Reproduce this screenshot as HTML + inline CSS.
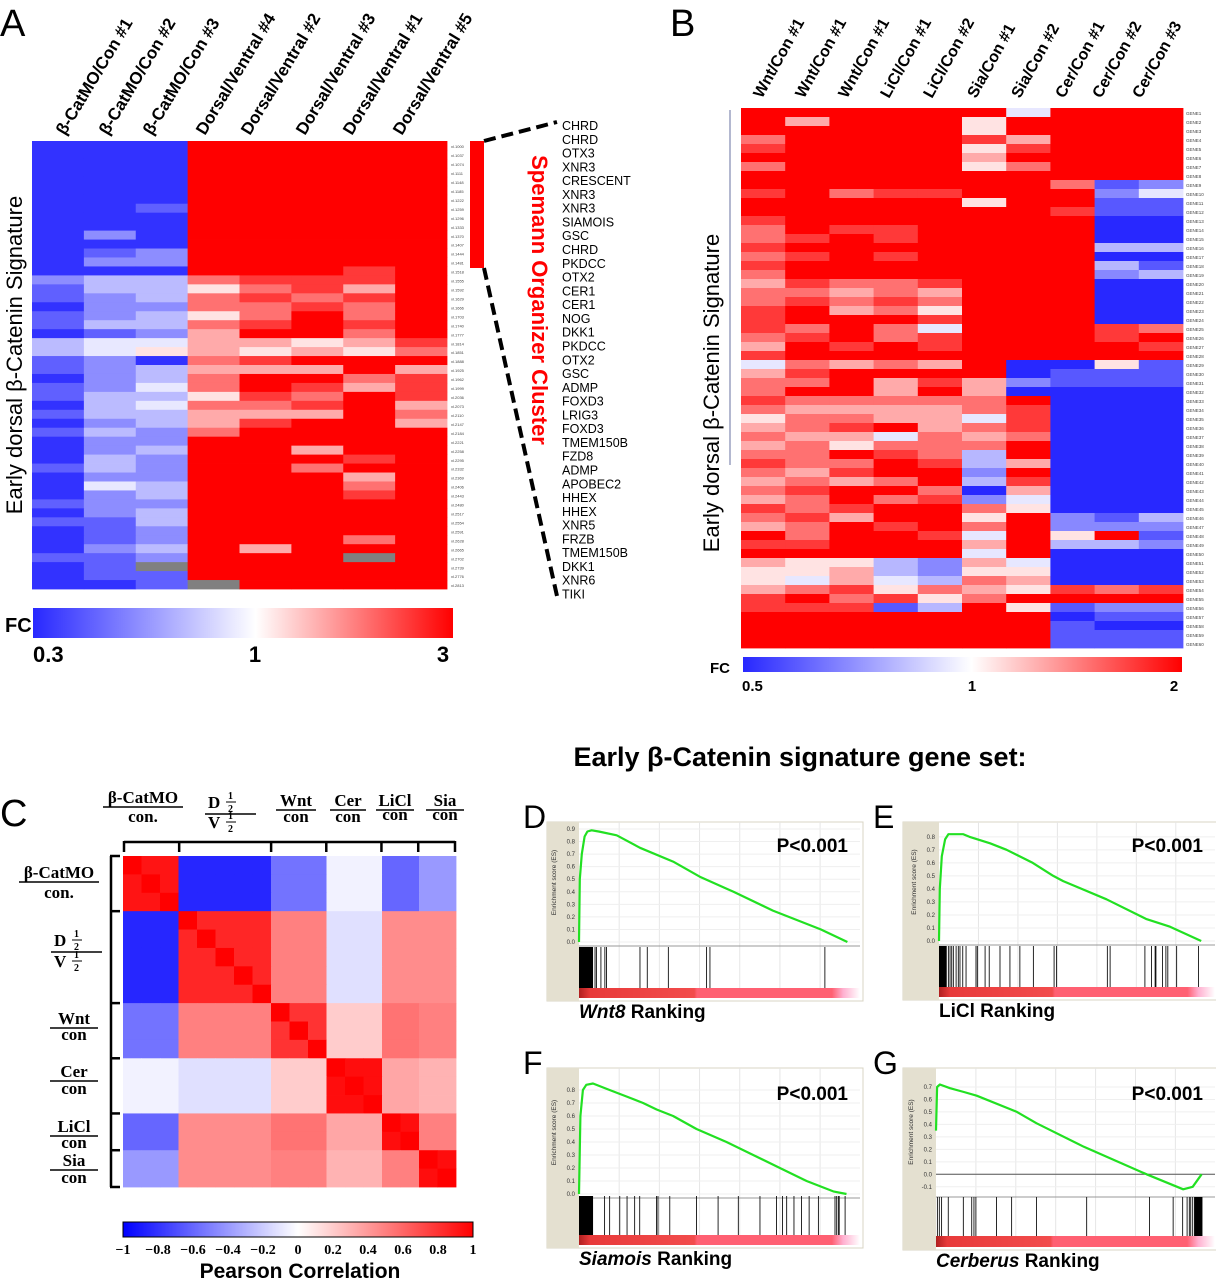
<!DOCTYPE html>
<html><head><meta charset="utf-8"><title>Early β-Catenin signature figure</title>
<style>
html,body{margin:0;padding:0;background:#fff;}
svg{display:block;font-family:"Liberation Sans",sans-serif;}
.serif{font-family:"Liberation Serif",serif;font-weight:bold;}
</style></head>
<body>
<svg id="fig" xmlns="http://www.w3.org/2000/svg" width="1216" height="1280" viewBox="0 0 1216 1280">
<defs>
<linearGradient id="gA" x1="0" x2="1"><stop offset="0" stop-color="#2828ff"/><stop offset="0.53" stop-color="#fff"/><stop offset="1" stop-color="#ff0000"/></linearGradient>
<linearGradient id="gB" x1="0" x2="1"><stop offset="0" stop-color="#2828ff"/><stop offset="0.52" stop-color="#fff"/><stop offset="1" stop-color="#ff0000"/></linearGradient>
<linearGradient id="gC" x1="0" x2="1"><stop offset="0" stop-color="#0000ff"/><stop offset="0.5" stop-color="#fff"/><stop offset="1" stop-color="#ff0000"/></linearGradient>
<linearGradient id="gRank" x1="0" x2="1"><stop offset="0" stop-color="#b02020"/><stop offset="0.04" stop-color="#e83a3a"/><stop offset="0.41" stop-color="#f24c4c"/><stop offset="0.42" stop-color="#ff6072"/><stop offset="0.9" stop-color="#ff6072"/><stop offset="0.94" stop-color="#ffb0d0"/><stop offset="1" stop-color="#fff"/></linearGradient>
</defs>

<!-- Panel letters -->
<text x="0" y="36" font-size="38">A</text>
<text x="670" y="36" font-size="38">B</text>
<text x="0" y="826" font-size="38">C</text>
<text x="523" y="828" font-size="32">D</text>
<text x="873" y="828" font-size="32">E</text>
<text x="523" y="1074" font-size="32">F</text>
<text x="873" y="1074" font-size="32">G</text>

<!-- Panel A static text -->
<text transform="translate(22,355) rotate(-90)" text-anchor="middle" font-size="22">Early dorsal β-Catenin Signature</text>
<rect x="470" y="141" width="14" height="127" fill="#ff0000"/>
<line x1="484" y1="141" x2="557" y2="122" stroke="#000" stroke-width="4" stroke-dasharray="12,6"/>
<line x1="484" y1="268" x2="557" y2="596" stroke="#000" stroke-width="4" stroke-dasharray="12,6"/>
<text transform="translate(532,300) rotate(90)" text-anchor="middle" font-size="22" font-weight="bold" fill="#ff0000">Spemann Organizer Cluster</text>
<g id="geneList" font-size="12.5"></g>
<rect x="33" y="608" width="420" height="30" fill="url(#gA)"/>
<text x="5" y="632" font-size="20" font-weight="bold">FC</text>
<text x="33" y="662" font-size="22" font-weight="bold">0.3</text>
<text x="255" y="662" font-size="22" font-weight="bold" text-anchor="middle">1</text>
<text x="443" y="662" font-size="22" font-weight="bold" text-anchor="middle">3</text>

<!-- Panel B static -->
<line x1="730" y1="110" x2="730" y2="465" stroke="#9aa0c0" stroke-width="1.5"/>
<text transform="translate(719,393) rotate(-90)" text-anchor="middle" font-size="22">Early dorsal β-Catenin Signature</text>
<rect x="743" y="657" width="439" height="15" fill="url(#gB)"/>
<text x="710" y="673" font-size="15" font-weight="bold">FC</text>
<text x="742" y="691" font-size="15" font-weight="bold">0.5</text>
<text x="972" y="691" font-size="15" font-weight="bold" text-anchor="middle">1</text>
<text x="1174" y="691" font-size="15" font-weight="bold" text-anchor="middle">2</text>

<!-- Title -->
<text x="800" y="766" text-anchor="middle" font-size="27" font-weight="bold">Early β-Catenin signature gene set:</text>

<!-- Panel C static -->
<g id="cHeaders" class="serif" font-size="17"></g>
<g stroke="#000" stroke-width="2.5" fill="none" id="cBrackets"></g>
<rect x="123" y="1222" width="350" height="15" fill="url(#gC)" stroke="#000" stroke-width="1"/>
<g id="cTicks" class="serif" font-size="14" text-anchor="middle"></g>
<text x="300" y="1278" text-anchor="middle" font-size="21" font-weight="bold">Pearson Correlation</text>

<g id="hmA"></g>
<g id="hmB"></g>
<g id="hmC"></g>
<g id="gsea"></g>
</svg>

<script>
// ---------- Panel A data ----------
const colsA = ["β-CatMO/Con #1","β-CatMO/Con #2","β-CatMO/Con #3","Dorsal/Ventral #4","Dorsal/Ventral #2","Dorsal/Ventral #3","Dorsal/Ventral #1","Dorsal/Ventral #5"];
const rowsA = [
"00099999","00099999","00099999","00099999","00099999","00099999","00099999","00199999","00099999","00099999",
"02099999","00099999","01299999","02299999","00099989","23378889","13357869","12378789","02277879","12357979",
"13378989","01269979","34466568","34565657","12078999","12366696","02379978","12479868","13358798","03477896",
"13366697","02368996","13279999","02299999","02399699","03299989","13299799","02299969","04399979","02399989",
"12299999","02399999","11399999","01299999","01299979","02396999","112999g9","01g99999","01199999","001g9999"];
const genesA = ["CHRD","CHRD","OTX3","XNR3","CRESCENT","XNR3","XNR3","SIAMOIS","GSC","CHRD","PKDCC","OTX2","CER1","CER1","NOG","DKK1","PKDCC","OTX2","GSC","ADMP","FOXD3","LRIG3","FOXD3","TMEM150B","FZD8","ADMP","APOBEC2","HHEX","HHEX","XNR5","FRZB","TMEM150B","DKK1","XNR6","TIKI"];

// ---------- Panel B data ----------
const colsB = ["Wnt/Con #1","Wnt/Con #1","Wnt/Con #1","LiCl/Con #1","LiCl/Con #2","Sia/Con #1","Sia/Con #2","Cer/Con #1","Cer/Con #2","Cer/Con #3"];
const rowsB = [
"9999994999","9699959999","9999959999","7999986999","8999958999","9999969999","7999957999","9999999999","9999999712","8978899924",
"9999959911","9999999811","8999999900","7988999900","7898999900","8999999933","7898999900","8999999931","7999999923","6877899900",
"7767699900","7878799900","8967599900","8999899900","8797499987","7897899989","6989899998","8999999999","4767690051","6899990111",
"7796862111","7996960000","8777779000","7666678000","5776648000","6789678000","7664767000","6757779000","7798739000","8779836000",
"7689929000","6767938000","7899706000","6797824000","8789975000","7869959213","6798979222","9799849591","8899969332","9999949000",
"6553264000","5563255000","5464376000","6785765878","8978579999","8881395122","9999999011","9999999100","9999999111","9999999111"];

// ---------- Panel C data ----------
const groupsC = ["β-CatMO","D/V","Wnt","Cer","LiCl","Sia"];
const groupSizesC = [3,5,3,3,2,2];
const blockCorr = [
 [0.92,-0.85,-0.55,-0.05,-0.6,-0.4],
 [-0.85,0.85,0.5,-0.12,0.45,0.45],
 [-0.55,0.5,0.8,0.2,0.55,0.5],
 [-0.05,-0.12,0.2,0.95,0.35,0.3],
 [-0.6,0.45,0.55,0.35,0.95,0.5],
 [-0.4,0.45,0.5,0.3,0.5,0.95]];
const ticksC = ["−1","−0.8","−0.6","−0.4","−0.2","0","0.2","0.4","0.6","0.8","1"];

// ---------- GSEA data ----------
const rankD = [0,0.3,1,2,3,4.5,7,13.4,21.7,33.5,43,55,69,86,95.5];
const esD   = [0,0.5,0.7,0.84,0.88,0.89,0.88,0.85,0.75,0.64,0.52,0.4,0.25,0.1,0];
const hitsD = [5.7,6.2,7.8,9.2,9.8,21.7,24.3,31.8,45.4,46.6,87.5];
const denseD = [0,5];
const rankE = [0,0.3,1,2.2,3.4,8.8,11,18.5,24.5,34,41.4,45,60.7,75,83.7,95];
const esE   = [0,0.4,0.65,0.78,0.82,0.82,0.8,0.75,0.7,0.6,0.5,0.46,0.32,0.17,0.11,0];
const hitsE = [3.4,4,4.6,5.2,6.2,7,7.6,8.6,9.8,13.4,13.9,16.7,18.2,22.1,25.7,29.3,34.2,41.7,42.6,61,62,74.6,77,78.3,78.6,81,82.2,82.9,86.1,94];
const denseE = [0,2.8];
const rankF = [0,0.5,1.4,2.6,5,10.9,16.9,22.8,27.6,33.5,41.8,52.5,62,71.5,81,90.5,95.2];
const esF   = [0,0.6,0.8,0.84,0.85,0.8,0.75,0.7,0.65,0.6,0.5,0.4,0.3,0.2,0.1,0.02,0];
const hitsF = [9.1,10.9,14.5,17.1,19.8,21.6,27.6,28.1,32.3,41.8,49.5,56.7,64.4,70.3,72.4,73.9,76.5,79.2,81.9,85.2,91.1,91.7,92.3,92.6,94.7];
const denseF = [0,5];
const rankG = [0,0.4,1.4,5,10,14.6,29,36,53,75.5,88.6,92,95.2];
const esG   = [0.35,0.7,0.72,0.69,0.66,0.63,0.5,0.41,0.22,0,-0.12,-0.1,0];
const hitsG = [0.5,1.2,2,4.4,9.8,12.8,13.6,14.3,21.7,27.1,36,54,76.5,85,88.4,90,90.8,91.3,92];
const denseG = [92.5,95.5];

// ---------- helpers ----------
const NS = "http://www.w3.org/2000/svg";
function mk(tag, attrs, parent){const e=document.createElementNS(NS,tag);for(const k in attrs)e.setAttribute(k,attrs[k]);parent.appendChild(e);return e;}
function lvlColor(ch, blue){
  if(ch==='g') return '#808080';
  const v=parseInt(ch,10); const t=v/9*2-1;
  const b=blue||[40,40,255];
  if(t<0){const a=-t;return `rgb(${Math.round(255+(b[0]-255)*a)},${Math.round(255+(b[1]-255)*a)},${Math.round(255+(b[2]-255)*a)})`;}
  return `rgb(255,${Math.round(255*(1-t))},${Math.round(255*(1-t))})`;
}
function corrColor(r){
  if(r<0){const a=-r;return `rgb(${Math.round(255*(1-a))},${Math.round(255*(1-a))},255)`;}
  return `rgb(255,${Math.round(255*(1-r))},${Math.round(255*(1-r))})`;
}

// ---------- Panel A heatmap ----------
(function(){
  const g=document.getElementById('hmA');
  const x0=32,x1=447,y0=141,y1=589;
  const cw=(x1-x0)/colsA.length, rh=(y1-y0)/rowsA.length;
  rowsA.forEach((row,ri)=>{
    for(let ci=0;ci<colsA.length;ci++){
      const r=mk('rect',{x:(x0+ci*cw).toFixed(2),y:(y0+ri*rh).toFixed(2),width:(cw+0.4).toFixed(2),height:(rh+0.4).toFixed(2),fill:lvlColor(row[ci],[50,50,255])},g);
      
      
    }
    const t=mk('text',{x:x1+4,y:(y0+ri*rh+rh*0.8).toFixed(1),'font-size':'4',fill:'#444'},g);
    t.textContent='xl.'+(1000+ri*37);
    
    
  });
  const starts=[65,108,152,205,250,305,352,402];
  colsA.forEach((c,i)=>{
    const t=mk('text',{x:starts[i],y:136,'font-size':'17','font-weight':'bold',transform:`rotate(-59 ${starts[i]} 136)`},g);
    t.textContent=c;
    
    
  });
  const gl=document.getElementById('geneList');
  genesA.forEach((n,i)=>{
    const t=mk('text',{x:562,y:(130+i*13.78).toFixed(1)},gl);
    t.textContent=n;
    
    
  });
})();

// ---------- Panel B heatmap ----------
(function(){
  const g=document.getElementById('hmB');
  const x0=741,x1=1183,y0=108,y1=648;
  const cw=(x1-x0)/colsB.length, rh=(y1-y0)/rowsB.length;
  rowsB.forEach((row,ri)=>{
    for(let ci=0;ci<colsB.length;ci++){
      const r=mk('rect',{x:(x0+ci*cw).toFixed(2),y:(y0+ri*rh).toFixed(2),width:(cw+0.4).toFixed(2),height:(rh+0.4).toFixed(2),fill:lvlColor(row[ci],[40,40,255])},g);
      
      
    }
    const t=mk('text',{x:x1+3,y:(y0+ri*rh+rh*0.8).toFixed(1),'font-size':'4.5',fill:'#444'},g);
    t.textContent='GENE'+(ri+1);
    
    
  });
  const starts=[762,804,847,889,932,976,1020,1064,1101,1141];
  colsB.forEach((c,i)=>{
    const t=mk('text',{x:starts[i],y:99,'font-size':'16','font-weight':'bold',transform:`rotate(-61 ${starts[i]} 99)`},g);
    t.textContent=c;
    
    
  });
})();

// ---------- Panel C correlation ----------
(function(){
  const g=document.getElementById('hmC');
  const x0=123,x1=456,y0=856,y1=1187;
  const n=groupSizesC.reduce((a,b)=>a+b,0);
  const cw=(x1-x0)/n, ch=(y1-y0)/n;
  const grp=[];groupSizesC.forEach((s,gi)=>{for(let k=0;k<s;k++)grp.push(gi);});
  for(let i=0;i<n;i++)for(let j=0;j<n;j++){
    const v=(i===j)?1:blockCorr[grp[i]][grp[j]];
    const r=mk('rect',{x:(x0+j*cw).toFixed(2),y:(y0+i*ch).toFixed(2),width:(cw+0.4).toFixed(2),height:(ch+0.4).toFixed(2),fill:corrColor(v)},g);
    
    
  }
  // brackets
  const b=document.getElementById('cBrackets');
  let acc=0; const bounds=[0];groupSizesC.forEach(s=>{acc+=s;bounds.push(acc);});
  mk('line',{x1:x0+1,y1:842,x2:x1-1,y2:842},b);
  mk('line',{x1:111,y1:y0,x2:111,y2:y1},b);
  bounds.forEach(k=>{
    const xx=x0+1+k*cw*(x1-x0-2)/(x1-x0); mk('line',{x1:xx,y1:841,x2:xx,y2:852},b);
    const yy=y0+k*ch; mk('line',{x1:110,y1:yy,x2:120,y2:yy},b);
  });
  // colorbar ticks
  const tg=document.getElementById('cTicks');
  ticksC.forEach((t,i)=>{
    const x=123+i*350/(ticksC.length-1);
    const e=mk('text',{x:x,y:1254},tg); e.textContent=t;
    
    
  });
  // headers (fraction labels)
  const hg=document.getElementById('cHeaders');
  function frac(cx,ny,dy,num,den,w,name){
    const a=mk('text',{x:cx,y:ny,'text-anchor':'middle'},hg);a.textContent=num;
    
    mk('line',{x1:cx-w/2,y1:ny+4,x2:cx+w/2,y2:ny+4,stroke:'#000','stroke-width':1.5},hg);
    const d=mk('text',{x:cx,y:dy,'text-anchor':'middle'},hg);d.textContent=den;
    
  }
  frac(143,803,822,"β-CatMO","con.",80,'col-label-bcat');
  frac(296,806,822,"Wnt","con",40,'col-label-wnt');
  frac(348,806,822,"Cer","con",36,'col-label-cer');
  frac(395,806,820,"LiCl","con",38,'col-label-licl');
  frac(445,806,820,"Sia","con",38,'col-label-sia');
  frac(59,878,898,"β-CatMO","con.",80,'row-label-bcat');
  frac(74,1024,1040,"Wnt","con",48,'row-label-wnt');
  frac(74,1077,1094,"Cer","con",48,'row-label-cer');
  frac(74,1132,1148,"LiCl","con",48,'row-label-licl');
  frac(74,1166,1183,"Sia","con",48,'row-label-sia');
  // D/V labels
  function dv(x,yD,yV,name){
    const a=mk('text',{x:x,y:yD},hg);a.textContent="D";
    const h1=mk('text',{x:x+20,y:yD-9,'font-size':'10'},hg);h1.textContent="1";
    mk('line',{x1:x+18,y1:yD-6,x2:x+28,y2:yD-6,stroke:'#000','stroke-width':1},hg);
    const h2=mk('text',{x:x+20,y:yD+4,'font-size':'10'},hg);h2.textContent="2";
    mk('line',{x1:x-3,y1:yD+6,x2:x+48,y2:yD+6,stroke:'#000','stroke-width':1.5},hg);
    const v=mk('text',{x:x,y:yV},hg);v.textContent="V";
    const h3=mk('text',{x:x+20,y:yV-9,'font-size':'10'},hg);h3.textContent="1";
    mk('line',{x1:x+18,y1:yV-6,x2:x+28,y2:yV-6,stroke:'#000','stroke-width':1},hg);
    const h4=mk('text',{x:x+20,y:yV+4,'font-size':'10'},hg);h4.textContent="2";
  }
  dv(208,808,828,'col-label-dv');
  dv(54,946,967,'row-label-dv');
})();

// ---------- GSEA panels ----------
function gsea(cfg){
  const g=document.getElementById('gsea');
  const {bx,by,px0,px1,esTop,esBot,yMin,yMax,ticks,hitTop,hitBot,barBot,name}=cfg;
  const X=r=>px0+(px1-px0)*r/100;
  const Y=v=>esBot-(v-yMin)/(yMax-yMin)*(esBot-esTop-6);
  const frame=mk('rect',{x:bx,y:by,width:px1-bx+3,height:barBot-by+3,fill:'#fff',stroke:'#d8d4c4','stroke-width':1},g);
  
  const strip=mk('rect',{x:bx,y:by,width:px0-bx,height:barBot-by+3,fill:'#e4e0d0'},g);
  
  // grid
  for(let k=1;k<7;k++){mk('line',{x1:X(k*14.3),y1:by,x2:X(k*14.3),y2:barBot,stroke:'#e6e6e6','stroke-width':1},g);}
  ticks.forEach(t=>{
    mk('line',{x1:px0,y1:Y(t),x2:px1,y2:Y(t),stroke:'#efefef','stroke-width':1},g);
    const e=mk('text',{x:px0-4,y:Y(t)+2,'font-size':'6','text-anchor':'end',fill:'#333'},g);
    e.textContent=t.toFixed(1);
    
  });
  if(yMin<0){mk('line',{x1:px0,y1:Y(0),x2:px1,y2:Y(0),stroke:'#555','stroke-width':1},g);}
  const yl=mk('text',{transform:`translate(${px0-23},${(esTop+esBot)/2}) rotate(-90)`,'font-size':'6.5','text-anchor':'middle',fill:'#333'},g);
  yl.textContent='Enrichment score (ES)';
  
  mk('line',{x1:px0,y1:esBot+4,x2:px1,y2:esBot+4,stroke:'#999','stroke-width':1},g);
  // curve
  const pts=cfg.rank.map((r,i)=>X(r).toFixed(1)+','+Y(cfg.es[i]).toFixed(1)).join(' ');
  const pl=mk('polyline',{points:pts,fill:'none',stroke:'#22e022','stroke-width':2.2,'stroke-linejoin':'round'},g);
  
  // hits
  const dr=mk('rect',{x:X(cfg.dense[0]),y:hitTop,width:X(cfg.dense[1])-X(cfg.dense[0]),height:hitBot-hitTop,fill:'#000'},g);
  
  cfg.hits.forEach(h=>{
    const l=mk('line',{x1:X(h),y1:hitTop,x2:X(h),y2:hitBot,stroke:'#111','stroke-width':0.9},g);
    
  });
  const rb=mk('rect',{x:px0,y:hitBot,width:px1-px0,height:barBot-hitBot,fill:'url(#gRank)'},g);
  
  const p=mk('text',{x:px1-12,y:esTop+29,'font-size':'19','font-weight':'bold','text-anchor':'end'},g);
  p.textContent='P<0.001';
  
  const lab=mk('text',{x:px0,y:barBot+20,'font-size':'19','font-weight':'bold'},g);
  
  if(cfg.italic){const s=mk('tspan',{'font-style':'italic'},lab);s.textContent=cfg.label;const s2=mk('tspan',{},lab);s2.textContent=' Ranking';}
  else lab.textContent=cfg.label+' Ranking';
}
gsea({name:'gsea-wnt8',bx:547,by:822,px0:579,px1:860,esTop:823,esBot:942,yMin:0,yMax:0.9,ticks:[0,.1,.2,.3,.4,.5,.6,.7,.8,.9],hitTop:947,hitBot:988,barBot:998,rank:rankD,es:esD,hits:hitsD,dense:denseD,label:'Wnt8',italic:true});
gsea({name:'gsea-licl',bx:903,by:822,px0:939,px1:1215,esTop:823,esBot:941,yMin:0,yMax:0.86,ticks:[0,.1,.2,.3,.4,.5,.6,.7,.8],hitTop:946,hitBot:987,barBot:997,rank:rankE,es:esE,hits:hitsE,dense:denseE,label:'LiCl',italic:false});
gsea({name:'gsea-siamois',bx:547,by:1068,px0:579,px1:860,esTop:1071,esBot:1194,yMin:0,yMax:0.9,ticks:[0,.1,.2,.3,.4,.5,.6,.7,.8],hitTop:1196,hitBot:1235,barBot:1245,rank:rankF,es:esF,hits:hitsF,dense:denseF,label:'Siamois',italic:true});
gsea({name:'gsea-cerberus',bx:903,by:1068,px0:936,px1:1215,esTop:1071,esBot:1193,yMin:-0.15,yMax:0.78,ticks:[-.1,0,.1,.2,.3,.4,.5,.6,.7],hitTop:1197,hitBot:1236,barBot:1247,rank:rankG,es:esG,hits:hitsG,dense:denseG,label:'Cerberus',italic:true});
</script>
</body></html>
